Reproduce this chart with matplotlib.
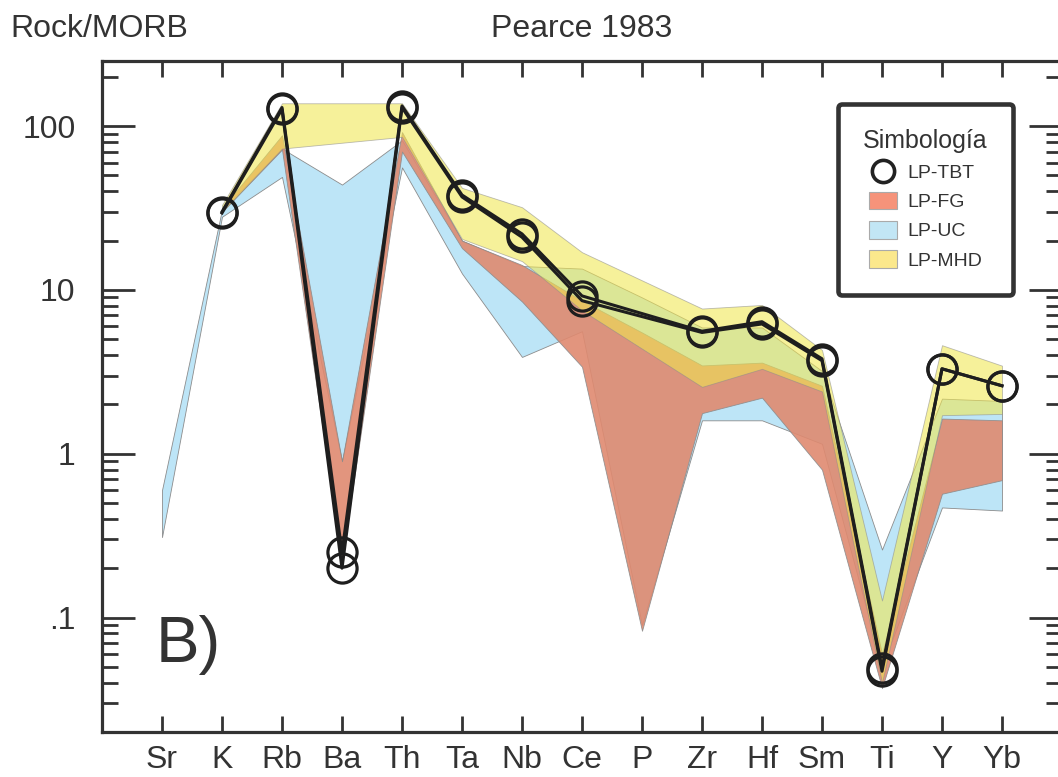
import numpy as np
import matplotlib
matplotlib.use('Agg')
import matplotlib.pyplot as plt
from matplotlib.lines import Line2D
from matplotlib.patches import Patch
from matplotlib.ticker import FixedLocator, FixedFormatter, LogLocator, NullFormatter

nan = np.nan

# Elements (Pearce 1983, normalised to MORB)
elements = ['Sr', 'K', 'Rb', 'Ba', 'Th', 'Ta', 'Nb', 'Ce', 'P', 'Zr', 'Hf', 'Sm', 'Ti', 'Y', 'Yb']

# LP-TBT samples (two analyses)
tbt_1 = [nan, 30, 130, 0.25, 133, 38, 22, 9.2, nan, 5.6, 6.4, 3.8, 0.049, 3.3, 2.6]
tbt_2 = [nan, 29.5, 127, 0.20, 130, 37, 21, 8.6, nan, 5.5, 6.2, 3.7, 0.047, 3.3, 2.6]

# envelopes (min / max) of each group
uc_hi = [0.6, 31, 73, 44, 82, 20, 14, 13.5, 9, 5.9, 5.9, 3.2, 0.26, 2.17, 2.1]
uc_lo = [0.31, 28, 49, 0.9, 56, 12.6, 3.9, 5.6, 0.09, 1.6, 1.6, 1.15, 0.05, 0.47, 0.45]

fg_hi = [nan, 31.5, 88, 0.9, 92, 20, 14.2, 8.6, 5.5, 3.46, 3.6, 2.6, 0.06, 1.64, 1.6]
fg_lo = [nan, 30, 72, 0.22, 70, 18, 8.5, 3.4, 0.083, 1.77, 2.2, 0.8, 0.037, 0.57, 0.69]

mhd_hi = [nan, 33, 138, nan, 138, 42, 32, 17, nan, 7.7, 8.1, 4.3, 0.127, 4.6, 3.45]
mhd_lo = [nan, 30, 73, nan, 86, 20.5, 15, 7.5, nan, 2.56, 3.3, 2.4, 0.04, 1.72, 1.75]

plt.rcParams['font.family'] = ['Liberation Sans', 'DejaVu Sans']
dark = '#333333'

fig = plt.figure(figsize=(10.58, 7.77), dpi=100)
ax = fig.add_axes([102 / 1058, 45 / 777, 960 / 1058, 671 / 777])

x = np.arange(len(elements))


def band(lo, hi, color, alpha):
    lo = np.array(lo, dtype=float)
    hi = np.array(hi, dtype=float)
    ok = ~np.isnan(lo) & ~np.isnan(hi)
    ax.fill_between(x[ok], lo[ok], hi[ok], facecolor=color, edgecolor='#8c8c8c',
                    linewidth=0.6, alpha=alpha, zorder=2)


band(uc_lo, uc_hi, '#bde5f7', 1.0)
band(fg_lo, fg_hi, '#df8a70', 0.9)
band(mhd_lo, mhd_hi, '#f1e751', 0.58)

for s in (tbt_1, tbt_2):
    s = np.array(s, dtype=float)
    ok = ~np.isnan(s)
    ax.plot(x[ok], s[ok], color='#1e1e1e', lw=2.2, marker='o', ms=21,
            mfc='none', mec='#1e1e1e', mew=2.3, zorder=5)

ax.set_yscale('log')
ax.set_ylim(0.02, 250)
ax.set_xlim(-1, 15)

ax.set_xticks(x)
ax.set_xticklabels(elements)
ax.yaxis.set_major_locator(FixedLocator([0.1, 1, 10, 100]))
ax.yaxis.set_major_formatter(FixedFormatter(['.1', '1', '10', '100']))
ax.yaxis.set_minor_locator(LogLocator(base=10, subs=np.arange(2, 10)))
ax.yaxis.set_minor_formatter(NullFormatter())

ax.tick_params(axis='both', which='both', direction='in', colors=dark,
               labelsize=23, top=True, right=True)
ax.tick_params(axis='y', which='major', length=24, width=2, pad=19)
ax.tick_params(axis='y', which='minor', length=11.5, width=2)
ax.tick_params(axis='x', which='major', length=11.5, width=2, pad=9.5)
for sp in ax.spines.values():
    sp.set_linewidth(2.3)
    sp.set_color(dark)

fig.text(10 / 1058, 1 - 29 / 777, 'Rock/MORB', fontsize=23, color=dark, va='center', ha='left')
fig.text(582 / 1058, 1 - 29 / 777, 'Pearce 1983', fontsize=23, color=dark, va='center', ha='center')
ax.text(0.056, 0.104, 'B)', transform=ax.transAxes, fontsize=47, color=dark,
        va='baseline', ha='left')

handles = [Line2D([], [], ls='none', marker='o', ms=16, mfc='none', mec='#222222', mew=2.6),
           Patch(facecolor='#f6937a', edgecolor='#aaaaaa', lw=0.8),
           Patch(facecolor='#c2e6f5', edgecolor='#aaaaaa', lw=0.8),
           Patch(facecolor='#fbe88c', edgecolor='#aaaaaa', lw=0.8)]
labels = ['LP-TBT', 'LP-FG', 'LP-UC', 'LP-MHD']
leg = ax.legend(handles, labels, title='Simbología', loc='upper right',
                bbox_to_anchor=(0.949, 0.936), borderaxespad=0, fontsize=14,
                title_fontsize=18, handlelength=1.45, handleheight=1.0,
                handletextpad=0.5, labelspacing=0.5, borderpad=1.3,
                fancybox=True, framealpha=1)
leg.get_frame().set_linewidth(3.3)
leg.get_frame().set_edgecolor(dark)
for t in leg.get_texts():
    t.set_color(dark)
leg.get_title().set_color(dark)
leg.set_zorder(10)

fig.savefig('out.png', dpi=100)
